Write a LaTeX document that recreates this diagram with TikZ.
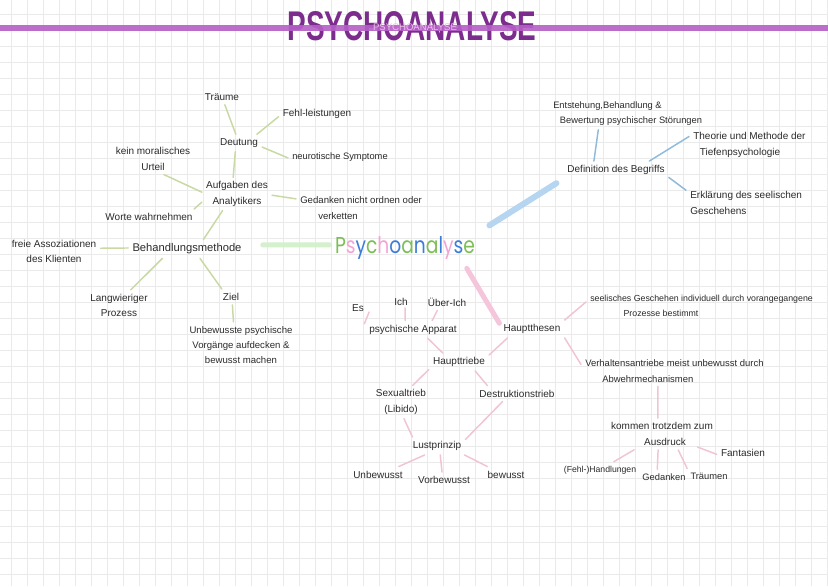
\documentclass[tikz,border=0pt]{standalone}
\usepackage{fontspec}
\setmainfont{Liberation Sans}
\newfontfamily\psyfont{Poppins}
\usepackage{graphicx}
\definecolor{textc}{HTML}{2B2B2B}
\definecolor{glc}{HTML}{C8D9A3}
\definecolor{blc}{HTML}{8DBBDD}
\definecolor{plc}{HTML}{F0C5D0}
\definecolor{tgc}{HTML}{D5F0CD}
\definecolor{tbc}{HTML}{B5D5F0}
\definecolor{tpc}{HTML}{F5C5DC}
\definecolor{titlec}{HTML}{7B2C8C}
\definecolor{titleline}{HTML}{B55FC6}
\definecolor{titlesmall}{HTML}{ECBDEB}
\definecolor{gridc}{HTML}{EAEAEA}
\definecolor{pg}{HTML}{7CBF55}
\definecolor{pp}{HTML}{F2A5D5}
\definecolor{pb}{HTML}{3C7DD9}
\begin{document}
\begin{tikzpicture}[x=0.75pt,y=-0.75pt,
  txt/.style={font=\fontsize{7.5}{11.5}\selectfont, text=textc, inner sep=3pt, align=center},
  fs/.style={font=\fontsize{#1}{11.5}\selectfont},
  lefttxt/.style={txt, align=left, anchor=west},
  gline/.style={draw=glc, line width=1.1pt, line cap=round},
  bline/.style={draw=blc, line width=1.1pt, line cap=round},
  pline/.style={draw=plc, line width=1.1pt, line cap=round},
  thickg/.style={draw=tgc, line width=3.75pt, line cap=round},
  thickb/.style={draw=tbc, line width=4.5pt, line cap=round},
  thickp/.style={draw=tpc, line width=3.75pt, line cap=round}]
\useasboundingbox (0,0) rectangle (828,586);
\fill[white] (0,0) rectangle (828,586);
% grid
\foreach \k in {0,...,51} \draw[gridc, line width=0.75pt] (11.7+16*\k,0) -- (11.7+16*\k,586);
\foreach \k in {0,...,35} \draw[gridc, line width=0.75pt] (0,14+16*\k) -- (828,14+16*\k);
% title
\node[inner sep=0pt, text=titlec] (title) at (412,26.5) {\resizebox{186.75pt}{21.75pt}{\bfseries PSYCHOANALYSE}};
\draw[titleline, line width=4.5pt, opacity=0.9] (0,27.5) -- (828,27.5);
\node[inner sep=0pt, text=titlesmall] (titlesmall) at (415,27.5) {\resizebox{63pt}{!}{PSYCHOANALYSE}};
% centre
\node[inner sep=3pt] (psy) at (405,247.5) {\resizebox{105pt}{12.75pt}{\psyfont\textcolor{pg}{P}\textcolor{pp}{s}\textcolor{pb}{y}\textcolor{pg}{c}\textcolor{pp}{h}\textcolor{pb}{o}\textcolor{pg}{a}\textcolor{pb}{n}\textcolor{pg}{a}\textcolor{pb}{l}\textcolor{pp}{y}\textcolor{pb}{s}\textcolor{pg}{e}}};
% left cluster
\node[txt] (traeume) at (222,97) {Träume};
\node[txt] (fehl) at (317,114) {Fehl-leistungen};
\node[txt] (deutung) at (239,143) {Deutung};
\node[txt, fs=7] (neuro) at (340,157) {neurotische Symptome};
\node[txt] (moral) at (153,159) {kein moralisches\\Urteil};
\node[txt] (aufgaben) at (237,194) {Aufgaben des\\Analytikers};
\node[lefttxt, fs=7.2] (gedanken) at (296,208) {Gedanken nicht ordnen oder\\\hspace*{13.5pt}verketten};
\node[txt] (worte) at (149,217) {Worte wahrnehmen};
\node[txt, fs=8.4] (behandlung) at (187,249) {Behandlungsmethode};
\node[txt] (freie) at (54,251.5) {freie Assoziationen\\des Klienten};
\node[txt] (lang) at (119,305.5) {Langwieriger\\Prozess};
\node[txt] (ziel) at (231,297) {Ziel};
\node[txt, fs=7.2] (unbew) at (241,345) {Unbewusste psychische\\Vorgänge aufdecken \&\\bewusst machen};
% right upper cluster
\node[lefttxt, fs=7] (entstehung) at (549,113.5) {Entstehung,Behandlung \&\\\hspace*{5pt}Bewertung psychischer Störungen};
\node[txt] (definition) at (616,170) {Definition des Begriffs};
\node[lefttxt] (theorie) at (689,145) {Theorie und Methode der\\\hspace*{5pt}Tiefenpsychologie};
\node[lefttxt] (erklaerung) at (686,203) {Erklärung des seelischen\\Geschehens};
% middle lower cluster
\node[txt] (es) at (358,308) {Es};
\node[txt] (ich) at (401,302) {Ich};
\node[txt] (ueberich) at (447,302) {Über-Ich};
\node[txt] (psyapp) at (413,329.5) {psychische Apparat};
\node[txt] (hauptthesen) at (532,329) {Hauptthesen};
\node[txt] (haupttriebe) at (459,362) {Haupttriebe};
\node[txt] (sexual) at (401,402) {Sexualtrieb\\(Libido)};
\node[txt] (destruktion) at (517,393.5) {Destruktionstrieb};
\node[txt] (lust) at (437,446) {Lustprinzip};
\node[txt] (unbewusst) at (378,474.5) {Unbewusst};
\node[txt] (vorbewusst) at (444,480) {Vorbewusst};
\node[txt] (bewusst) at (506,474.5) {bewusst};
% right lower cluster
\node[lefttxt, fs=6.6] (seelisch) at (586,306) {seelisches Geschehen individuell durch vorangegangene\\\hspace*{25pt}Prozesse bestimmt};
\node[lefttxt, fs=7.1] (verhalten) at (581,371) {Verhaltensantriebe meist unbewusst durch\\\hspace*{12.75pt}Abwehrmechanismen};
\node[txt] (kommen) at (662,426) {kommen trotzdem zum};
\node[txt] (ausdruck) at (665,442) {Ausdruck};
\node[txt] (fantasien) at (743,453) {Fantasien};
\node[txt, fs=6.5] (fehlh) at (600,470) {(Fehl-)Handlungen};
\node[txt, fs=7] (gedanken2) at (664,477) {Gedanken};
\node[txt, fs=7] (traeumen) at (709,476) {Träumen};
% thick connectors
\draw[thickg, shorten >=12.75pt, shorten <=0.75pt] (psy.178) -- (behandlung.4);
\draw[thickb, shorten <=9pt, shorten >=6pt] (psy.north east) -- (definition.south west);
\draw[thickp, shorten <=4.5pt] (psy.345) -- (hauptthesen.170);
% green connectors
\draw[gline] (traeume.290) -- (deutung.110);
\draw[gline] (fehl.184) -- (deutung.26);
\draw[gline] (neuro.181) -- (deutung.350);
\draw[gline] (deutung.247) -- (aufgaben.103);
\draw[gline] (moral.305) -- (aufgaben.177);
\draw[gline] (aufgaben.358) -- (gedanken.172);
\draw[gline] (aufgaben.193) -- (worte.10);
\draw[gline] (aufgaben.229) -- (behandlung.30);
\draw[gline] (freie.4) -- (behandlung.179);
\draw[gline] (behandlung.201) -- (lang.53);
\draw[gline] (behandlung.324) -- (ziel.139);
\draw[gline] (ziel.280) -- (unbew.108);
% blue connectors
\draw[bline] (entstehung.209) -- (definition.158);
\draw[bline] (definition.15) -- (theorie.172);
\draw[bline] (definition.352) -- (erklaerung.168);
% pink connectors
\draw[pline, shorten <=-3pt, shorten >=-1.5pt] (es.321) -- (psyapp.171);
\draw[pline, shorten <=-1.5pt] (ich.297) -- (psyapp.131);
\draw[pline] (ueberich.221) -- (psyapp.25);
\draw[pline] (psyapp.329) -- (haupttriebe.151);
\draw[pline] (hauptthesen.200) -- (haupttriebe.13);
\draw[pline] (haupttriebe.194) -- (sexual.55);
\draw[pline] (haupttriebe.331) -- (destruktion.165);
\draw[pline] (sexual.280) -- (lust.160);
\draw[pline] (destruktion.209) -- (lust.13);
\draw[pline] (lust.216) -- (unbewusst.21);
\draw[pline] (lust.290) -- (vorbewusst.104);
\draw[pline] (lust.342) -- (bewusst.157);
\draw[pline] (hauptthesen.north east) -- (seelisch.178);
\draw[pline] (hauptthesen.south east) -- (verhalten.176);
\draw[pline] (verhalten.223) -- (kommen.118);
\draw[pline, shorten <=5pt] (ausdruck.190) -- (fehlh.31);
\draw[pline] (ausdruck.229) -- (gedanken2.131);
\draw[pline] (ausdruck.329) -- (traeumen.161);
\draw[pline, shorten <=6pt] (ausdruck.355) -- (fantasien.183);
\end{tikzpicture}
\end{document}
